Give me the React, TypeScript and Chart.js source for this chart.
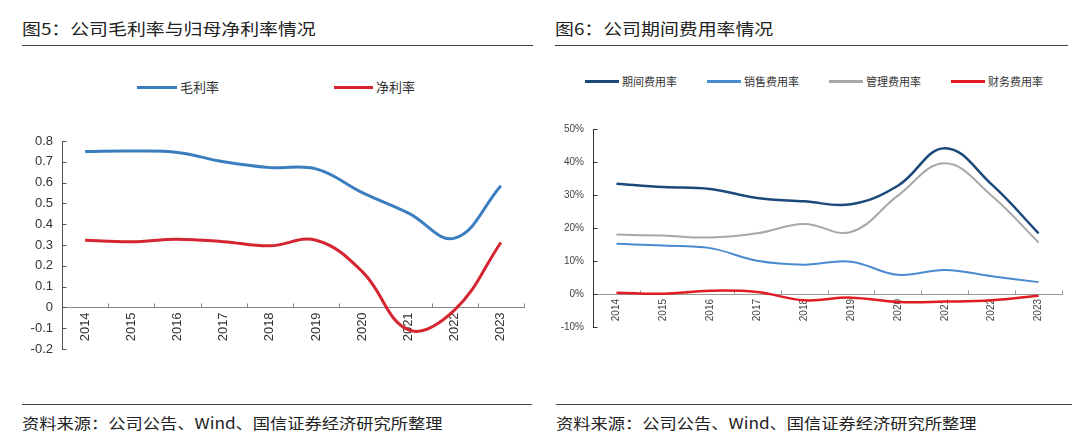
import React, { useEffect, useRef } from "react";
import { Chart, registerables } from "chart.js";

Chart.register(...registerables);

// ---------- data ----------
const years = ["2014", "2015", "2016", "2017", "2018", "2019", "2020", "2021", "2022", "2023"];

// Figure 5
const grossMargin = [0.75, 0.752, 0.745, 0.7, 0.672, 0.666, 0.552, 0.453, 0.333, 0.585];
const netMargin = [0.323, 0.316, 0.328, 0.316, 0.296, 0.323, 0.172, -0.108, -0.012, 0.312];
const marginLabels = ["毛利率", "净利率"];

// Figure 6 (percent)
const periodExpense = [33.4, 32.4, 31.8, 29.1, 28.1, 27.2, 32.8, 44.2, 33.2, 18.4];
const salesExpense = [15.2, 14.7, 13.9, 10.1, 8.9, 9.8, 5.8, 7.3, 5.4, 3.6];
const adminExpense = [18.0, 17.7, 17.1, 18.4, 21.2, 18.8, 29.8, 39.6, 29.8, 15.6];
const financeExpense = [0.4, 0.1, 1.0, 0.6, -1.9, -1.1, -2.4, -2.3, -1.9, -0.5];
const expenseLabels = ["期间费用率", "销售费用率", "管理费用率", "财务费用率"];

const title5 = "图5：公司毛利率与归母净利率情况";
const title6 = "图6：公司期间费用率情况";
const sourceText = "资料来源：公司公告、Wind、国信证券经济研究所整理";

const leftColors = ["#3B7EC0", "#D42530"];
const rightColors = ["#1B4A7A", "#4A8BCF", "#A8A8A8", "#E01B24"];

const tickFont = "'Liberation Sans', Arial, sans-serif";
const cjkFont = "'Noto Sans CJK SC', 'Noto Sans', sans-serif";

// small tick marks drawn inward, as in the reference
const innerTicks = {
  id: "innerTicks",
  beforeDatasetsDraw(chart: any, _args: any, opts: any) {
    const { ctx } = chart;
    const xs = chart.scales.x;
    const ys = chart.scales.y;
    const len = opts.len ?? 4;
    ctx.save();
    ctx.lineWidth = 1;
    ctx.strokeStyle = opts.yColor || "#555";
    const x0 = Math.round(chart.chartArea.left) + 0.5;
    ys.ticks.forEach((t: any) => {
      const py = Math.round(ys.getPixelForValue(t.value)) + 0.5;
      ctx.beginPath();
      ctx.moveTo(x0, py);
      ctx.lineTo(x0 + len, py);
      ctx.stroke();
    });
    ctx.strokeStyle = opts.xColor || "#888";
    const y0 = Math.round(ys.getPixelForValue(0)) + 0.5;
    for (let i = 1; i <= xs.ticks.length; i++) {
      const px = Math.round(xs.getPixelForValue(i - 0.5)) + 0.5;
      ctx.beginPath();
      ctx.moveTo(px, y0);
      ctx.lineTo(px, y0 - len);
      ctx.stroke();
    }
    ctx.restore();
  },
};

function makeOptions(cfg: {
  min: number;
  max: number;
  step: number;
  fmt: (v: number) => string;
  yWidth: number;
  pad: { top: number; bottom: number; right: number };
  fontSize: number;
  tickColor: string;
  yBorder: string;
  xBorder: string;
}) {
  return {
    animation: false,
    responsive: false,
    layout: { padding: { left: 0, top: cfg.pad.top, bottom: cfg.pad.bottom, right: cfg.pad.right } },
    plugins: {
      legend: { display: false },
      tooltip: { enabled: false },
      innerTicks: { len: 4, yColor: cfg.yBorder, xColor: cfg.xBorder },
    },
    scales: {
      x: {
        type: "category",
        position: { y: 0 },
        offset: true,
        grid: { display: false, drawTicks: false, offset: true },
        border: { display: true, color: cfg.xBorder, width: 1 },
        ticks: {
          autoSkip: false,
          minRotation: 90,
          maxRotation: 90,
          padding: 5,
          color: cfg.tickColor,
          font: { family: tickFont, size: cfg.fontSize },
        },
      },
      y: {
        type: "linear",
        min: cfg.min,
        max: cfg.max,
        afterFit: (s: any) => {
          s.width = cfg.yWidth;
        },
        grid: { display: false, drawTicks: false },
        border: { display: true, color: cfg.yBorder, width: 1 },
        ticks: {
          stepSize: cfg.step,
          padding: 9,
          color: cfg.tickColor,
          font: { family: tickFont, size: cfg.fontSize },
          callback: (v: any) => cfg.fmt(Number(v)),
        },
      },
    },
  };
}

function lineDataset(label: string, data: number[], color: string, width: number) {
  return {
    label,
    data,
    borderColor: color,
    backgroundColor: color,
    borderWidth: width,
    pointRadius: 0,
    tension: 0.4,
    fill: false,
  };
}

function ChartCanvas({ config, left, top }: { config: any; left: number; top: number }) {
  const ref = useRef<HTMLCanvasElement | null>(null);
  useEffect(() => {
    if (!ref.current) return;
    const chart = new Chart(ref.current, { ...config, plugins: [innerTicks] });
    return () => chart.destroy();
  }, []);
  return (
    <canvas
      ref={ref}
      width={540}
      height={340}
      style={{ position: "absolute", left, top, width: 540, height: 340 }}
    />
  );
}

function Text({
  x,
  cy,
  size,
  text,
  color = "#222",
  sx = 1,
}: {
  x: number;
  cy: number;
  size: number;
  text: string;
  color?: string;
  sx?: number;
}) {
  return (
    <div
      style={{
        position: "absolute",
        left: x,
        top: cy - size,
        height: size * 2,
        lineHeight: `${size * 2}px`,
        fontSize: size,
        fontFamily: cjkFont,
        color,
        whiteSpace: "nowrap",
        transform: `scaleX(${sx})`,
        transformOrigin: "left center",
      }}
    >
      {text}
    </div>
  );
}

function HLine({ x1, x2, y, color = "#444" }: { x1: number; x2: number; y: number; color?: string }) {
  return <div style={{ position: "absolute", left: x1, top: y, width: x2 - x1, height: 1, background: color }} />;
}

function LegendItem({
  x,
  y,
  lineW,
  color,
  text,
  size,
  thick,
}: {
  x: number;
  y: number;
  lineW: number;
  color: string;
  text: string;
  size: number;
  thick: number;
}) {
  return (
    <>
      <div
        style={{
          position: "absolute",
          left: x,
          top: y - thick / 2,
          width: lineW,
          height: thick,
          background: color,
        }}
      />
      <Text x={x + lineW + 3} cy={y} size={size} text={text} color="#333" />
    </>
  );
}

export default function App() {
  const leftConfig = {
    type: "line",
    data: {
      labels: years,
      datasets: [
        lineDataset(marginLabels[0], grossMargin, leftColors[0], 3),
        lineDataset(marginLabels[1], netMargin, leftColors[1], 3),
      ],
    },
    options: makeOptions({
      min: -0.2,
      max: 0.8,
      step: 0.1,
      fmt: (v) => String(Number(v.toFixed(1))),
      yWidth: 62,
      pad: { top: 91, bottom: 41, right: 16 },
      fontSize: 13,
      tickColor: "#333",
      yBorder: "#555",
      xBorder: "#888",
    }),
  };

  const rightConfig = {
    type: "line",
    data: {
      labels: years,
      datasets: [
        lineDataset(expenseLabels[0], periodExpense, rightColors[0], 2.5),
        lineDataset(expenseLabels[1], salesExpense, rightColors[1], 2),
        lineDataset(expenseLabels[2], adminExpense, rightColors[2], 2),
        lineDataset(expenseLabels[3], financeExpense, rightColors[3], 2.5),
      ],
    },
    options: makeOptions({
      min: -10,
      max: 50,
      step: 10,
      fmt: (v) => `${Math.round(v)}%`,
      yWidth: 53,
      pad: { top: 79, bottom: 63, right: 18 },
      fontSize: 10,
      tickColor: "#444",
      yBorder: "#333",
      xBorder: "#999",
    }),
  };

  return (
    <div style={{ position: "absolute", left: 0, top: 0, width: 1080, height: 448, background: "#fff", overflow: "hidden" }}>
      <Text x={22} cy={28} size={16} text={title5} sx={1.18} />
      <Text x={555} cy={28} size={16} text={title6} sx={1.18} />
      <HLine x1={22} x2={533} y={45} />
      <HLine x1={555} x2={1068} y={45} />

      <LegendItem x={137} y={87} lineW={40} color={leftColors[0]} text={marginLabels[0]} size={13} thick={3} />
      <LegendItem x={334} y={87} lineW={39} color={leftColors[1]} text={marginLabels[1]} size={13} thick={3} />

      <LegendItem x={585} y={81} lineW={34} color={rightColors[0]} text={expenseLabels[0]} size={11} thick={3} />
      <LegendItem x={707} y={81} lineW={34} color={rightColors[1]} text={expenseLabels[1]} size={11} thick={3} />
      <LegendItem x={829} y={81} lineW={34} color={rightColors[2]} text={expenseLabels[2]} size={11} thick={3} />
      <LegendItem x={951} y={81} lineW={34} color={rightColors[3]} text={expenseLabels[3]} size={11} thick={3} />

      <ChartCanvas config={leftConfig} left={0} top={50} />
      <ChartCanvas config={rightConfig} left={540} top={50} />

      <HLine x1={22} x2={532} y={404} />
      <HLine x1={556} x2={1072} y={404} />
      <Text x={22} cy={423} size={15} text={sourceText} sx={1.15} />
      <Text x={556} cy={423} size={15} text={sourceText} sx={1.15} />
    </div>
  );
}
